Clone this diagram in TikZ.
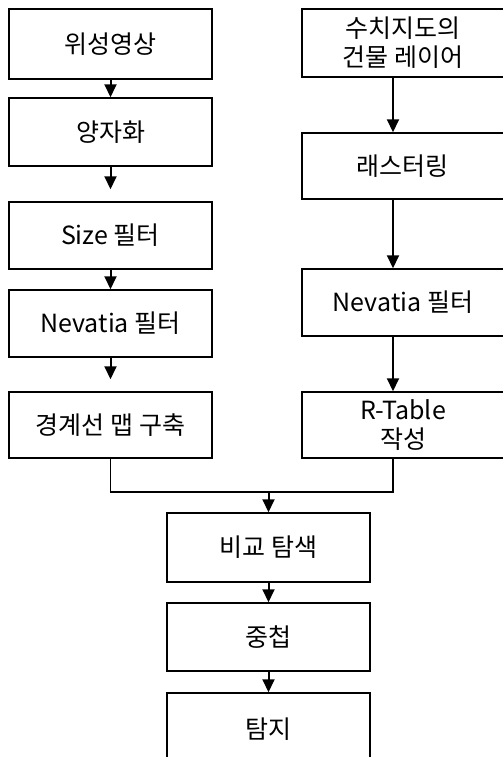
\documentclass[tikz,border=0pt]{standalone}
\usepackage{fontspec}
\setmainfont{Noto Sans CJK KR}
\usetikzlibrary{arrows.meta}

\begin{document}
\begin{tikzpicture}[x=0.5pt,y=-0.5pt,
  box/.style={draw,line width=0.75pt,inner sep=0pt,align=center,
    font=\fontsize{12.5}{14.5}\selectfont},
  lbox/.style={box,minimum width=101.5pt},
  rbox/.style={box,minimum width=101pt},
  arr/.style={line width=1pt,-{Triangle[length=6.5pt,width=6pt]}}]
\useasboundingbox (0,0) rectangle (503,757);
% left side
\node[lbox,minimum height=35pt] (sat) at (110.5,44) {위성영상};
\node[lbox,minimum height=34pt] (quant) at (110.5,132) {양자화};
\node[lbox,minimum height=33.5pt] (size) at (110.5,235.5) {Size 필터};
\node[lbox,minimum height=33.5pt] (nevL) at (110.5,323.5) {Nevatia 필터};
\node[lbox,minimum height=33pt] (edge) at (110.5,425) {경계선 맵 구축};
\draw[arr] (sat) -- (quant);
\draw[arr,shorten >=6pt] (quant) -- (size);
\draw[arr] (size) -- (nevL);
\draw[arr,shorten >=6pt] (nevL) -- (edge);
% right side
\node[rbox,minimum height=34pt] (layer) at (403,43) {수치지도의\\건물 레이어};
\node[rbox,minimum height=33pt] (raster) at (403,166) {래스터링};
\node[rbox,minimum height=33.5pt] (nevR) at (403,302.5) {Nevatia 필터};
\node[rbox,minimum height=33pt] (rtab) at (403,425) {R-Table\\작성};
\draw[arr] ([xshift=-5pt]layer.south) -- ([xshift=-5pt]raster.north);
\draw[arr] ([xshift=-5pt]raster.south) -- ([xshift=-5pt]nevR.north);
\draw[arr] ([xshift=-5pt]nevR.south) -- ([xshift=-5pt]rtab.north);
% bottom
\node[lbox,minimum height=34.5pt] (cmp) at (268.5,547.5) {비교 탐색};
\node[lbox,minimum height=34pt] (over) at (268.5,637) {중첩};
\node[lbox,minimum height=36pt] (det) at (268.5,729) {탐지};
\coordinate (mid) at (268.5,492);
\draw[line width=0.75pt] (edge.south) |- (mid) -| ([xshift=-5pt]rtab.south);
\draw[arr] (mid) -- (cmp);
\draw[arr] (cmp) -- (over);
\draw[arr] (over) -- (det);
\end{tikzpicture}
\end{document}
